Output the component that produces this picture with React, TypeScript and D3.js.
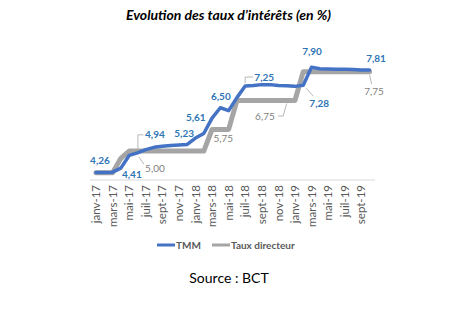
import React from "react";
import * as d3 from "d3";

const months = [
  "janv-17","févr-17","mars-17","avr-17","mai-17","juin-17","juil-17","août-17","sept-17","oct-17","nov-17","déc-17",
  "janv-18","févr-18","mars-18","avr-18","mai-18","juin-18","juil-18","août-18","sept-18","oct-18","nov-18","déc-18",
  "janv-19","févr-19","mars-19","avr-19","mai-19","juin-19","juil-19","août-19","sept-19","oct-19",
];

const tmm = [
  4.26, 4.26, 4.27, 4.41, 4.85, 4.94, 5.05, 5.13, 5.17, 5.19, 5.21, 5.23,
  5.45, 5.61, 6.14, 6.5, 6.4, 6.85, 7.25, 7.27, 7.3, 7.3, 7.27, 7.26,
  7.24, 7.28, 7.9, 7.85, 7.84, 7.83, 7.83, 7.82, 7.81, 7.81,
];

const tauxDirecteur = [
  4.25, 4.25, 4.25, 4.75, 5.0, 5.0, 5.0, 5.0, 5.0, 5.0, 5.0, 5.0,
  5.0, 5.0, 5.75, 5.75, 5.75, 6.75, 6.75, 6.75, 6.75, 6.75, 6.75, 6.75,
  6.75, 7.75, 7.75, 7.75, 7.75, 7.75, 7.75, 7.75, 7.75, 7.75,
];

const tickLabels = months.filter((_, i) => i % 2 === 0);

const seriesNames = ["TMM", "Taux directeur"];

// indices of labelled points
const tmmLabelIdx = [0, 3, 5, 11, 13, 15, 18, 25, 26, 33];
const tauxLabelIdx = [5, 15, 23, 33];

// label layout (offsets from the point, and optional leader lines)
type Lay = { dx: number; dy: number; leader?: [number, number][] };
const tmmLayout: Lay[] = [
  { dx: 4, dy: -12.5 },
  { dx: 11, dy: 6 },
  { dx: 17.5, dy: -18, leader: [[6, -18], [0.5, -18], [0.5, -4]] },
  { dx: -3, dy: -11 },
  { dx: -8, dy: -16 },
  { dx: 0.5, dy: -11.6 },
  { dx: 19, dy: -9, leader: [[8, -9], [0, -9], [0, -3]] },
  { dx: 16, dy: 18, leader: [[10, 11], [3, 3]] },
  { dx: 0.5, dy: -16 },
  { dx: 6.5, dy: -11 },
];
const tauxLayout: Lay[] = [
  { dx: 17.5, dy: 17, leader: [[6.5, 13], [1.5, 6]] },
  { dx: 3, dy: 9 },
  { dx: -21.7, dy: 16, leader: [[-8.5, 15.5], [-3.5, 15.5], [0, 3]] },
  { dx: 4.5, dy: 20, leader: [[2, 12.5], [0, 3]] },
];

const BLUE = "#4472c4";
const BLUE_TXT = "#2e75b6";
const GRAY = "#a5a5a5";
const GRAY_TXT = "#7f7f7f";
const FONT = "Lato, 'Open Sans', sans-serif";

const fmt = (v: number) => v.toFixed(2).replace(".", ",");

export default function App() {
  const W = 462, H = 333;
  const x = d3.scaleBand<string>().domain(months).range([91.85, 373.7]);
  const cx = (i: number) => (x(months[i]) as number) + x.bandwidth() / 2;
  const y = d3.scaleLinear().domain([4, 8.5]).range([180, 180 - 4.5 * 28.9]);

  const line = d3
    .line<number>()
    .x((_, i) => cx(i))
    .y((v) => y(v))
    .curve(d3.curveLinear);

  const renderLabels = (
    idx: number[],
    lay: Lay[],
    vals: number[],
    color: string,
    weight: number,
    key: string
  ) =>
    idx.map((i, k) => {
      const px = cx(i), py = y(vals[i]);
      const l = lay[k];
      return (
        <g key={key + i}>
          {l.leader && (
            <polyline
              points={l.leader.map(([a, b]) => `${px + a},${py + b}`).join(" ")}
              fill="none"
              stroke="#a6a6a6"
              strokeWidth={0.8}
            />
          )}
          <text
            x={px + l.dx}
            y={py + l.dy}
            dy="0.36em"
            textAnchor="middle"
            fontFamily={FONT}
            fontSize={10}
            fontWeight={weight}
            fill={color}
          >
            {fmt(vals[i])}
          </text>
        </g>
      );
    });

  return (
    <svg width={W} height={H} style={{ display: "block", margin: "-8px 0 0 -8px" }}>
      <rect width={W} height={H} fill="#ffffff" />
      <text
        x={228.5}
        y={20}
        textAnchor="middle"
        fontFamily={FONT}
        fontSize={14}
        fontWeight={700}
        fontStyle="italic"
        fill="#000"
      >
        Evolution des taux d’intérêts (en %)
      </text>

      <line x1={90} x2={375} y1={180} y2={180} stroke="#d9d9d9" strokeWidth={1} />

      {tickLabels.map((m) => {
        const tx = (x(m) as number) + x.bandwidth() / 2;
        return (
          <text
            key={m}
            transform={`translate(${tx},185) rotate(-90)`}
            textAnchor="end"
            dy="0.36em"
            fontFamily={FONT}
            fontSize={11.5}
            fill="#595959"
          >
            {m}
          </text>
        );
      })}

      <path
        d={line(tauxDirecteur) || ""}
        fill="none"
        stroke={GRAY}
        strokeWidth={5}
        strokeLinejoin="round"
        strokeLinecap="round"
      />
      <path
        d={line(tmm) || ""}
        fill="none"
        stroke={BLUE}
        strokeWidth={3.5}
        strokeLinejoin="round"
        strokeLinecap="round"
      />

      {renderLabels(tauxLabelIdx, tauxLayout, tauxDirecteur, GRAY_TXT, 400, "t")}
      {renderLabels(tmmLabelIdx, tmmLayout, tmm, BLUE_TXT, 700, "m")}

      {/* legend */}
      <line x1={157} x2={175} y1={245} y2={245} stroke={BLUE} strokeWidth={3} />
      <text x={176} y={245} dy="0.36em" fontFamily={FONT} fontSize={10} fontWeight={700} fill="#595959">
        {seriesNames[0]}
      </text>
      <line x1={212} x2={230} y1={245} y2={245} stroke={GRAY} strokeWidth={3} />
      <text x={231} y={245} dy="0.36em" fontFamily={FONT} fontSize={10} fontWeight={700} fill="#595959">
        {seriesNames[1]}
      </text>

      <text x={229} y={278} dy="0.36em" textAnchor="middle" fontFamily={FONT} fontSize={14} fill="#000">
        Source : BCT
      </text>
    </svg>
  );
}
